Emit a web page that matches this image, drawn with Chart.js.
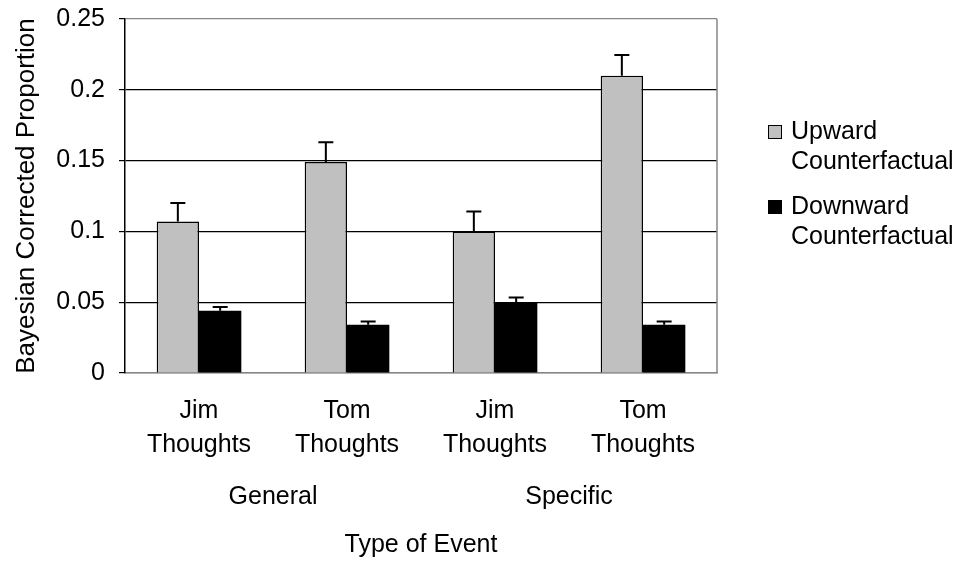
<!DOCTYPE html>
<html>
<head>
<meta charset="utf-8">
<script src="https://cdn.jsdelivr.net/npm/chart.js@4.4.1/dist/chart.umd.min.js"></script>
<style>
  html, body { margin: 0; padding: 0; background: #fff; }
  #wrap { width: 962px; height: 562px; position: relative; }
</style>
</head>
<body>
<div id="wrap"><canvas id="c" width="962" height="562"></canvas></div>
<script>
const categories = [['Jim', 'Thoughts'], ['Tom', 'Thoughts'], ['Jim', 'Thoughts'], ['Tom', 'Thoughts']];
const groupLabels = ['General', 'Specific'];
const seriesNames = [['Upward', 'Counterfactual'], ['Downward', 'Counterfactual']];
const upward = [0.107, 0.149, 0.100, 0.210];
const upwardErr = [0.013, 0.014, 0.014, 0.0145];
const downward = [0.044, 0.034, 0.0495, 0.034];
const downwardErr = [0.0026, 0.0023, 0.0038, 0.0023];
const yTicks = [0, 0.05, 0.1, 0.15, 0.2, 0.25];
const yTitle = 'Bayesian Corrected Proportion';
const xTitle = 'Type of Event';

const FONT = 'Liberation Sans, Arial, sans-serif';
const FS = 25;
const GRAY = '#C0C0C0';
const BORDER_GRAY = '#868686';

const errors = [upwardErr, downwardErr];

const errorBarPlugin = {
  id: 'errorBars',
  afterDatasetsDraw(chart) {
    const ctx = chart.ctx;
    const y = chart.scales.y;
    ctx.save();
    ctx.strokeStyle = '#000';
    ctx.lineWidth = 2;
    chart.data.datasets.forEach((ds, di) => {
      const meta = chart.getDatasetMeta(di);
      meta.data.forEach((el, i) => {
        const v = ds.data[i];
        const e = errors[di][i];
        const yTop = y.getPixelForValue(v + e);
        const yBar = y.getPixelForValue(v);
        ctx.beginPath();
        ctx.moveTo(el.x, yBar);
        ctx.lineTo(el.x, yTop);
        ctx.moveTo(el.x - 7.5, yTop);
        ctx.lineTo(el.x + 7.5, yTop);
        ctx.stroke();
      });
    });
    ctx.restore();
  }
};

const framePlugin = {
  id: 'frame',
  afterDatasetsDraw(chart) {
    const ctx = chart.ctx;
    const a = chart.chartArea;
    ctx.save();
    ctx.strokeStyle = BORDER_GRAY;
    ctx.lineWidth = 1.5;
    ctx.beginPath();
    ctx.moveTo(a.right, a.top);
    ctx.lineTo(a.right, a.bottom);
    ctx.stroke();
    ctx.restore();
  }
};

const extrasPlugin = {
  id: 'extras',
  afterDraw(chart) {
    const ctx = chart.ctx;
    const x = chart.scales.x;
    const a = chart.chartArea;
    ctx.save();
    ctx.fillStyle = '#000';
    ctx.font = FS + 'px ' + FONT;
    ctx.textAlign = 'center';
    ctx.textBaseline = 'middle';
    groupLabels.forEach((g, gi) => {
      const cx = (x.getPixelForValue(gi * 2) + x.getPixelForValue(gi * 2 + 1)) / 2;
      ctx.fillText(g, cx, a.bottom + 124);
    });
    // legend
    const lx = a.right + 51;
    const colors = [GRAY, '#000'];
    const tops = [a.top + 113, a.top + 188];
    ctx.textAlign = 'left';
    seriesNames.forEach((lines, si) => {
      const ty = tops[si];
      ctx.fillStyle = colors[si];
      ctx.fillRect(lx, ty - 7, 14, 14);
      ctx.strokeStyle = '#000';
      ctx.lineWidth = 1;
      ctx.strokeRect(lx + 0.5, ty - 6.5, 13, 13);
      ctx.fillStyle = '#000';
      lines.forEach((t, li) => {
        ctx.fillText(t, lx + 23, ty + li * 30);
      });
    });
    ctx.restore();
  }
};

new Chart(document.getElementById('c'), {
  type: 'bar',
  data: {
    labels: categories,
    datasets: [
      {
        label: seriesNames[0].join(' '),
        data: upward,
        backgroundColor: GRAY,
        borderColor: '#000',
        borderWidth: 1.5,
        categoryPercentage: 0.572,
        barPercentage: 1.0
      },
      {
        label: seriesNames[1].join(' '),
        data: downward,
        backgroundColor: '#000',
        borderColor: '#000',
        borderWidth: 0,
        categoryPercentage: 0.572,
        barPercentage: 1.0
      }
    ]
  },
  options: {
    responsive: false,
    animation: false,
    devicePixelRatio: 1,
    layout: { padding: { left: 0, right: 245, top: 19, bottom: 0 } },
    plugins: {
      legend: { display: false },
      tooltip: { enabled: false }
    },
    scales: {
      x: {
        grid: { display: false, drawTicks: false },
        border: { display: true, color: BORDER_GRAY, width: 1.5 },
        ticks: {
          color: '#000',
          padding: 21,
          maxRotation: 0,
          autoSkip: false,
          font: { family: FONT, size: FS, lineHeight: 1.36 }
        },
        title: {
          display: true,
          text: xTitle,
          color: '#000',
          font: { family: FONT, size: FS },
          padding: { top: 0, bottom: 2 }
        },
        afterFit(scale) { scale.height = 189; }
      },
      y: {
        min: 0,
        max: 0.25,
        afterBuildTicks(scale) { scale.ticks = yTicks.map(v => ({ value: v })); },
        grid: {
          color: ctx => (ctx.tick && (ctx.tick.value === 0.25 || ctx.tick.value === 0)) ? BORDER_GRAY : '#000',
          lineWidth: 1.2,
          drawTicks: true,
          tickLength: 6,
          tickColor: '#000'
        },
        border: { display: true, color: '#000', width: 1.5 },
        ticks: {
          color: '#000',
          padding: 14,
          font: { family: FONT, size: FS },
          callback: v => String(+Number(v).toFixed(2))
        },
        title: {
          display: true,
          text: yTitle,
          color: '#000',
          font: { family: FONT, size: 26 },
          padding: { top: 11, bottom: 0 }
        },
        afterFit(scale) { scale.width = 125; scale.paddingTop = 0; scale.paddingBottom = 0; }
      }
    }
  },
  plugins: [errorBarPlugin, framePlugin, extrasPlugin]
});
</script>
</body>
</html>
